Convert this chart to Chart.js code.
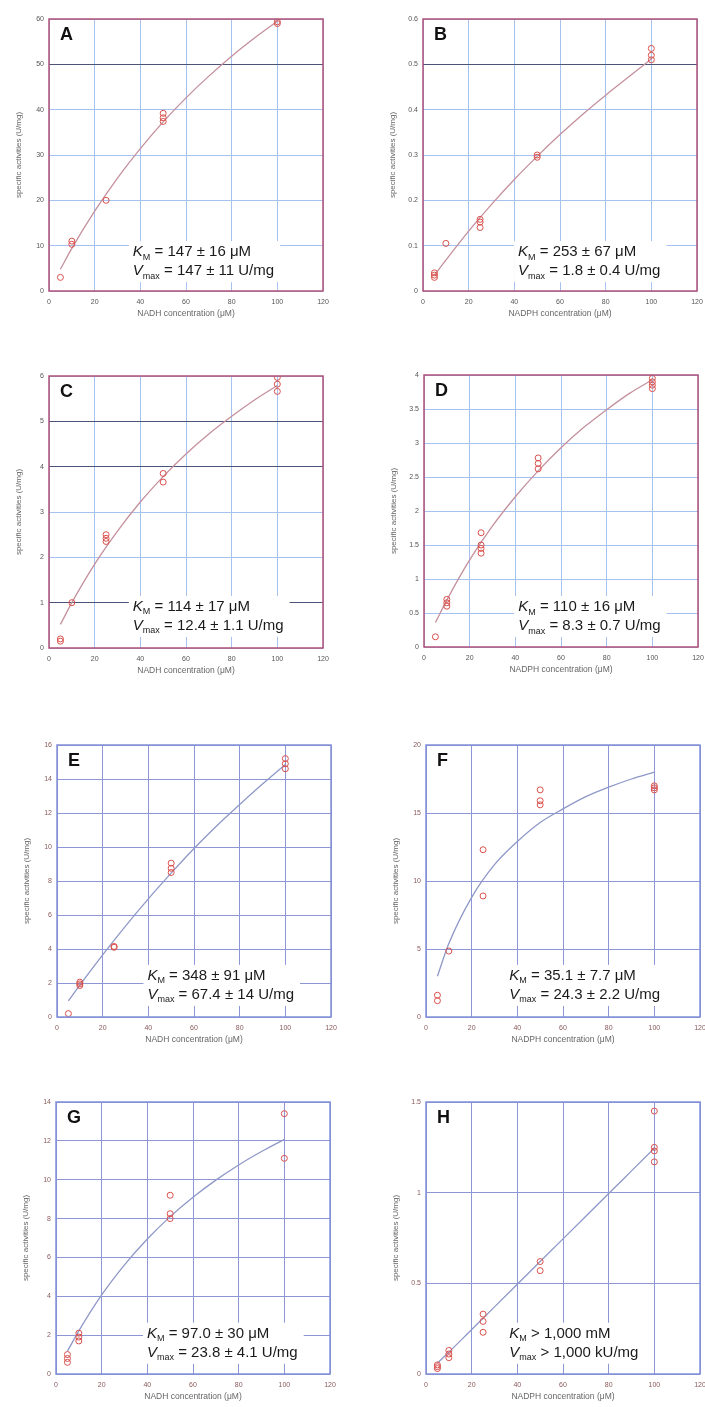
<!DOCTYPE html>
<html>
<head>
<meta charset="utf-8">
<script src="https://cdn.jsdelivr.net/npm/chart.js@4.4.1/dist/chart.umd.min.js"></script>
<style>
  body { margin: 0; background: #fff; }
  #wrap { position: relative; width: 705px; height: 1407px; overflow: hidden; }
  #wrap canvas { position: absolute; }
</style>
</head>
<body>
<div id="wrap"></div>
<script>
// Michaelis-Menten panels A-H

const xTicks = [0, 20, 40, 60, 80, 100, 120];
const fitX = [5, 10, 20, 30, 40, 50, 60, 70, 80, 90, 100];

// A - NADH
const concA = [5, 10, 10, 25, 50, 50, 50, 100, 100];
const actA = [3.0, 10.3, 11.0, 20.0, 37.4, 38.2, 39.2, 59.0, 59.4];
const fitA = [4.8, 9.4, 17.6, 24.9, 31.4, 37.3, 42.6, 47.4, 51.8, 55.8, 59.5];
const yTicksA = [0, 10, 20, 30, 40, 50, 60];

// B - NADPH
const concB = [5, 5, 5, 10, 25, 25, 25, 50, 50, 100, 100, 100];
const actB = [0.03, 0.035, 0.04, 0.105, 0.14, 0.152, 0.158, 0.295, 0.3, 0.51, 0.52, 0.535];
const fitB = [0.035, 0.068, 0.132, 0.191, 0.246, 0.297, 0.345, 0.39, 0.432, 0.472, 0.512];
const yTicksB = [0, 0.1, 0.2, 0.3, 0.4, 0.5, 0.6];

// C - NADH
const concC = [5, 5, 10, 25, 25, 25, 50, 50, 100, 100, 100];
const actC = [0.15, 0.2, 1.0, 2.35, 2.42, 2.5, 3.66, 3.85, 5.66, 5.82, 5.97];
const fitC = [0.52, 1.0, 1.85, 2.58, 3.22, 3.78, 4.28, 4.72, 5.11, 5.47, 5.79];
const yTicksC = [0, 1, 2, 3, 4, 5, 6];

// D - NADPH
const concD = [5, 10, 10, 10, 25, 25, 25, 25, 50, 50, 50, 100, 100, 100, 100];
const actD = [0.15, 0.6, 0.65, 0.7, 1.38, 1.45, 1.5, 1.68, 2.62, 2.7, 2.78, 3.8, 3.85, 3.9, 3.95];
const fitD = [0.36, 0.69, 1.28, 1.78, 2.21, 2.59, 2.93, 3.23, 3.49, 3.73, 3.93];
const yTicksD = [0, 0.5, 1, 1.5, 2, 2.5, 3, 3.5, 4];

// E - NADH
const concE = [5, 10, 10, 10, 25, 25, 50, 50, 50, 100, 100, 100];
const actE = [0.2, 1.85, 1.95, 2.05, 4.1, 4.15, 8.5, 8.75, 9.05, 14.6, 14.9, 15.2];
const fitE = [0.95, 1.88, 3.66, 5.35, 6.95, 8.46, 9.91, 11.25, 12.5, 13.7, 14.85];
const yTicksE = [0, 2, 4, 6, 8, 10, 12, 14, 16];

// F - NADPH
const concF = [5, 5, 10, 25, 25, 50, 50, 50, 100, 100, 100];
const actF = [1.2, 1.6, 4.85, 8.9, 12.3, 15.6, 15.9, 16.7, 16.7, 16.85, 17.0];
const fitF = [3.0, 5.4, 8.8, 11.2, 12.9, 14.3, 15.3, 16.2, 16.9, 17.5, 18.0];
const yTicksF = [0, 5, 10, 15, 20];

// G - NADH
const concG = [5, 5, 5, 10, 10, 10, 50, 50, 50, 100, 100];
const actG = [0.6, 0.8, 1.0, 1.7, 1.9, 2.1, 8.0, 8.25, 9.2, 11.1, 13.4];
const fitG = [1.17, 2.22, 4.07, 5.62, 6.95, 8.1, 9.1, 9.98, 10.76, 11.45, 12.08];
const yTicksG = [0, 2, 4, 6, 8, 10, 12, 14];

// H - NADPH
const concH = [5, 5, 5, 10, 10, 10, 25, 25, 25, 50, 50, 100, 100, 100, 100];
const actH = [0.03, 0.04, 0.05, 0.09, 0.11, 0.13, 0.23, 0.29, 0.33, 0.57, 0.62, 1.17, 1.23, 1.25, 1.45];
const fitH = [0.06, 0.12, 0.245, 0.37, 0.495, 0.62, 0.745, 0.87, 0.995, 1.12, 1.245];
const yTicksH = [0, 0.5, 1, 1.5];

const FONT = '"Liberation Sans", Arial, sans-serif';

const themes = {
  red:  { frame: '#b0507a', grid: '#a6c2ee', dark: '#4c5378', fit: '#c4909c', tick: '#555' },
  blue: { frame: '#8290d8', grid: '#8e96d6', dark: '#8e96d6', fit: '#8e98c8', tick: '#8a5a5a' }
};

// plot-area origin (left, top) of each panel on the page
const panels = [
  { letter: 'A', sub: 'NADH',  x: concA, y: actA, fit: fitA, ticks: yTicksA, dark: [50], km: '147 ± 16 μM', vmax: '147 ± 11 U/mg', left: 49, top: 19, theme: 'red', tx: 0.306, ty: 0.857 },
  { letter: 'B', sub: 'NADPH', x: concB, y: actB, fit: fitB, ticks: yTicksB, dark: [0.5], km: '253 ± 67 μM', vmax: '1.8 ± 0.4 U/mg', left: 423, top: 19, theme: 'red', tx: 0.347, ty: 0.857 },
  { letter: 'C', sub: 'NADH',  x: concC, y: actC, fit: fitC, ticks: yTicksC, dark: [1, 4, 5], km: '114 ± 17 μM', vmax: '12.4 ± 1.1 U/mg', left: 49, top: 376, theme: 'red', tx: 0.306, ty: 0.849 },
  { letter: 'D', sub: 'NADPH', x: concD, y: actD, fit: fitD, ticks: yTicksD, dark: [], km: '110 ± 16 μM', vmax: '8.3 ± 0.7 U/mg', left: 424, top: 375, theme: 'red', tx: 0.344, ty: 0.853 },
  { letter: 'E', sub: 'NADH',  x: concE, y: actE, fit: fitE, ticks: yTicksE, dark: [], km: '348 ± 91 μM', vmax: '67.4 ± 14 U/mg', left: 57, top: 745, theme: 'blue', tx: 0.33, ty: 0.849 },
  { letter: 'F', sub: 'NADPH', x: concF, y: actF, fit: fitF, ticks: yTicksF, dark: [], km: '35.1 ± 7.7 μM', vmax: '24.3 ± 2.2 U/mg', left: 426, top: 745, theme: 'blue', tx: 0.304, ty: 0.849 },
  { letter: 'G', sub: 'NADH',  x: concG, y: actG, fit: fitG, ticks: yTicksG, dark: [], km: '97.0 ± 30 μM', vmax: '23.8 ± 4.1 U/mg', left: 56, top: 1102, theme: 'blue', tx: 0.332, ty: 0.852 },
  { letter: 'H', sub: 'NADPH', x: concH, y: actH, fit: fitH, ticks: yTicksH, dark: [], km: '> 1,000 mM', vmax: '> 1,000 kU/mg', left: 426, top: 1102, theme: 'blue', tx: 0.304, ty: 0.852, gt: true }
];

const AXIS_W = 49, PAD_TOP = 19, PAD_RIGHT = 22, AXIS_H = 36;
const PLOT_W = 274, PLOT_H = 272;

// frame, panel letter and the KM / Vmax annotation
const panelDecor = {
  id: 'panelDecor',
  afterDatasetsDraw(chart, args, opts) {
    const { ctx, chartArea: a } = chart;
    const th = themes[opts.theme];
    ctx.save();
    ctx.strokeStyle = th.frame;
    ctx.lineWidth = 1.5;
    ctx.strokeRect(a.left, a.top, a.right - a.left, a.bottom - a.top);

    ctx.fillStyle = '#111';
    ctx.font = 'bold 18px ' + FONT;
    ctx.textBaseline = 'middle';
    ctx.fillText(opts.letter, a.left + 11, a.top + 16);

    const x0 = a.left + opts.tx * (a.right - a.left);
    const y1 = a.top + opts.ty * (a.bottom - a.top);
    const y2 = y1 + 19;
    const eq = opts.gt ? ' ' : ' = ';
    const lines = [
      { sym: 'K', sub: 'M', rest: eq + opts.km, y: y1 },
      { sym: 'V', sub: 'max', rest: eq + opts.vmax, y: y2 }
    ];
    let maxW = 0;
    lines.forEach(l => {
      ctx.font = 'italic 15px ' + FONT;
      let w = ctx.measureText(l.sym).width;
      ctx.font = '9px ' + FONT;
      w += ctx.measureText(l.sub).width;
      ctx.font = '15px ' + FONT;
      w += ctx.measureText(l.rest).width;
      l.w = w;
      maxW = Math.max(maxW, w);
    });
    ctx.fillStyle = '#fff';
    ctx.fillRect(x0 - 4, y1 - 11, maxW + 10, y2 - y1 + 22);

    ctx.fillStyle = '#1a1a1a';
    lines.forEach(l => {
      let x = x0;
      ctx.font = 'italic 15px ' + FONT;
      ctx.fillText(l.sym, x, l.y);
      x += ctx.measureText(l.sym).width;
      ctx.font = '9px ' + FONT;
      ctx.fillText(l.sub, x, l.y + 5);
      x += ctx.measureText(l.sub).width;
      ctx.font = '15px ' + FONT;
      ctx.fillText(l.rest, x, l.y);
    });
    ctx.restore();
  }
};

function makePanel(p) {
  const th = themes[p.theme];
  const canvas = document.createElement('canvas');
  canvas.width = AXIS_W + PLOT_W + PAD_RIGHT;
  canvas.height = PAD_TOP + PLOT_H + AXIS_H;
  canvas.style.left = (p.left - AXIS_W) + 'px';
  canvas.style.top = (p.top - PAD_TOP) + 'px';
  document.getElementById('wrap').appendChild(canvas);

  const yMax = p.ticks[p.ticks.length - 1];

  return new Chart(canvas, {
    type: 'scatter',
    data: {
      datasets: [
        {
          label: 'fit',
          data: fitX.map((x, i) => ({ x: x, y: p.fit[i] })),
          showLine: true,
          borderColor: th.fit,
          borderWidth: 1.3,
          pointRadius: 0,
          cubicInterpolationMode: 'monotone',
          order: 2
        },
        {
          label: 'measured',
          data: p.x.map((x, i) => ({ x: x, y: p.y[i] })),
          showLine: false,
          pointStyle: 'circle',
          pointRadius: 3,
          pointBorderWidth: 1,
          pointBorderColor: '#d8504c',
          pointBackgroundColor: 'rgba(255,255,255,0)',
          order: 1
        }
      ]
    },
    options: {
      responsive: false,
      animation: false,
      devicePixelRatio: 1,
      layout: { padding: { top: PAD_TOP, right: PAD_RIGHT, left: 0, bottom: 0 } },
      plugins: {
        legend: { display: false },
        tooltip: { enabled: false },
        panelDecor: { theme: p.theme, letter: p.letter, km: p.km, vmax: p.vmax, tx: p.tx, ty: p.ty, gt: p.gt }
      },
      scales: {
        x: {
          type: 'linear',
          min: 0,
          max: 120,
          afterBuildTicks: axis => { axis.ticks = xTicks.map(v => ({ value: v })); },
          afterFit: axis => { axis.height = AXIS_H; },
          border: { display: false },
          grid: { color: th.grid, lineWidth: 1, drawTicks: false },
          ticks: { padding: 7, color: th.tick, font: { family: FONT, size: 7 } },
          title: {
            display: true,
            text: p.sub + ' concentration (μM)',
            color: '#666',
            font: { family: FONT, size: 8.5 },
            padding: { top: 0, bottom: 8 }
          }
        },
        y: {
          type: 'linear',
          min: 0,
          max: yMax,
          afterBuildTicks: axis => { axis.ticks = p.ticks.map(v => ({ value: v })); },
          afterFit: axis => { axis.width = AXIS_W; },
          border: { display: false },
          grid: {
            color: ctx => (ctx.tick && p.dark.includes(ctx.tick.value)) ? th.dark : th.grid,
            lineWidth: 1,
            drawTicks: false
          },
          ticks: {
            padding: 5,
            color: th.tick,
            font: { family: FONT, size: 7 },
            callback: v => String(Math.round(v * 100) / 100)
          },
          title: {
            display: true,
            text: 'specific activities (U/mg)',
            color: '#666',
            font: { family: FONT, size: 8 },
            padding: { top: 14, bottom: 0 }
          }
        }
      }
    },
    plugins: [panelDecor]
  });
}

panels.forEach(makePanel);
</script>
</body>
</html>
